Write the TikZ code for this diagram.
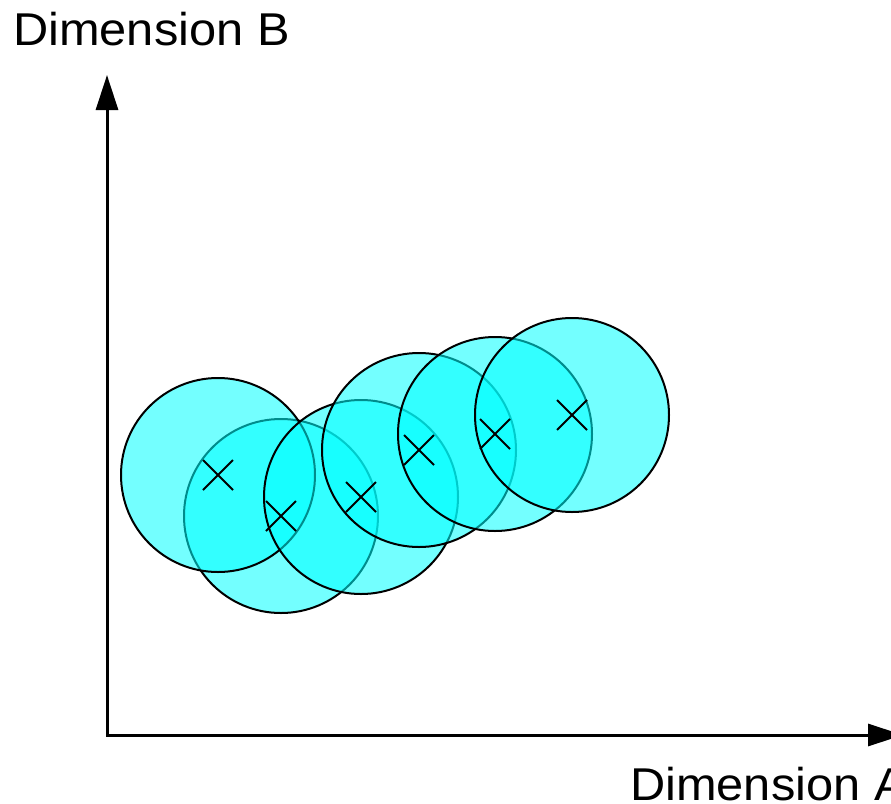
\documentclass[tikz,border=0pt]{standalone}
\usepackage{fontspec}
\setmainfont{Liberation Sans}
\newfontfamily\dimfont[FakeStretch=1.06]{Liberation Sans}
\usepackage{tikz}
\usetikzlibrary{arrows.meta,shapes.misc}
\definecolor{blobcyan}{RGB}{0,255,255}
\tikzset{
  blob/.style ={circle, draw=black, line width=2pt, fill=blobcyan, fill opacity=0.55,
                minimum size=194pt, inner sep=0pt},
  xmark/.style={cross out, draw=black, line width=2pt, minimum size=28pt, inner sep=0pt},
  axis/.style ={{Triangle[length=35pt,width=22pt]}-{Triangle[length=35pt,width=22pt]}, line width=3pt},
  dimlbl/.style={font=\dimfont\fontsize{46}{52}\selectfont, inner sep=0pt, anchor=base west},
}

\begin{document}
\begin{tikzpicture}[x=1pt,y=-1pt]
\useasboundingbox[fill=white] (0,0) rectangle (891,803);
\clip (0,0) rectangle (891,803);
% axes
\coordinate (o) at (107,735);
\coordinate (ytip) at (107,75);
\coordinate (xtip) at (903,735);
\draw[axis] (ytip) -- (o) -- (xtip);
\node[dimlbl] (labB) at (13,45) {Dimension B};
\node[dimlbl] (labA) at (630,800) {Dimension A};
% clusters, back to front
\foreach \n/\x/\y in {2/281/516, 1/218/475, 3/361/497, 4/419/450, 5/495/434, 6/572/415}
  \node[blob] (c\n) at (\x,\y) {};
\foreach \n in {1,...,6}
  \node[xmark] (x\n) at (c\n.center) {};
\end{tikzpicture}
\end{document}
